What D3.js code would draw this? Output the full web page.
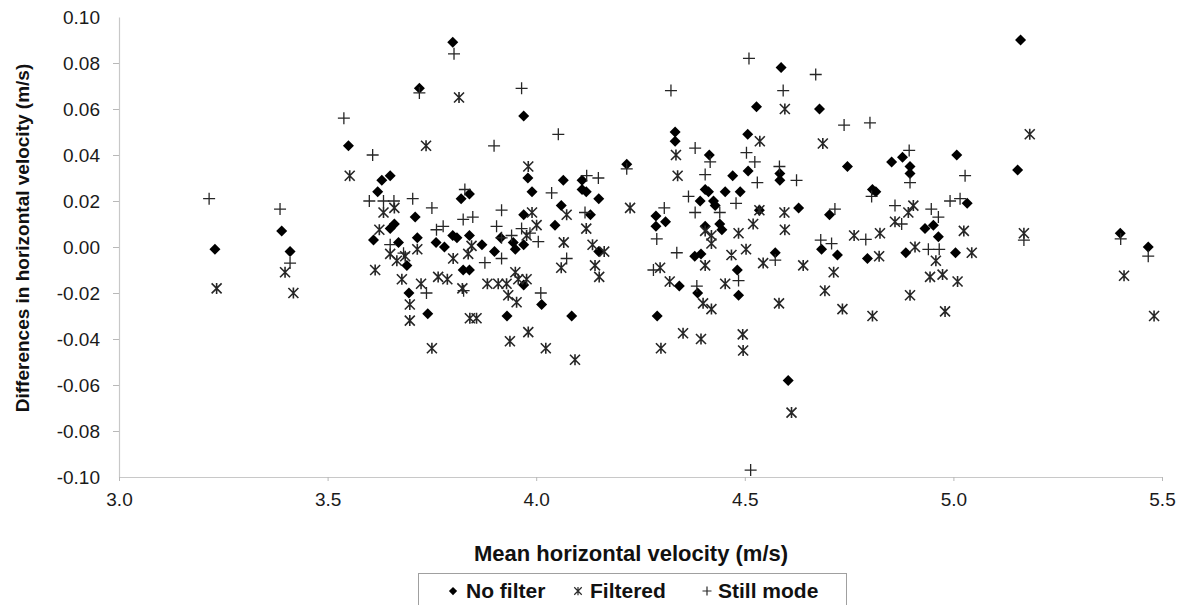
<!DOCTYPE html>
<html>
<head>
<meta charset="utf-8">
<script src="https://cdn.jsdelivr.net/npm/d3@7"></script>
<style>
body { margin: 0; background: #fff; }
text { font-family: "Liberation Sans", Arial, sans-serif; }
</style>
</head>
<body>
<div id="chart"></div>
<script>
var width = 1189
var height = 605

var xTicks = [3.0, 3.5, 4.0, 4.5, 5.0, 5.5]
var yTicks = [-0.10, -0.08, -0.06, -0.04, -0.02, 0.00, 0.02, 0.04, 0.06, 0.08, 0.10]
var seriesNames = ["No filter", "Filtered", "Still mode"]
var xTitle = "Mean horizontal velocity (m/s)"
var yTitle = "Differences in horizontal velocity (m/s)"

// [mean velocity, difference]
var noFilter = [
    [3.23, -0.001], [3.39, 0.007], [3.41, -0.002], [3.55, 0.044], [3.63, 0.029], [3.65, 0.031],
    [3.62, 0.024], [3.71, 0.013], [3.65, 0.008], [3.66, 0.010], [3.61, 0.003], [3.67, 0.002],
    [3.715, 0.004], [3.76, 0.002], [3.78, 0.000], [3.80, 0.005], [3.81, 0.004], [3.84, 0.005],
    [3.87, 0.001], [3.90, -0.002], [3.915, 0.004], [3.945, 0.002], [3.97, 0.001], [3.97, 0.014],
    [3.95, -0.001], [3.82, 0.021], [3.84, 0.023], [3.69, -0.008], [3.825, -0.010], [3.84, -0.010],
    [3.695, -0.020], [3.74, -0.029], [3.93, -0.030], [3.97, -0.0165], [3.80, 0.089], [3.72, 0.069],
    [3.97, 0.057], [3.98, 0.030], [3.99, 0.024], [4.065, 0.029], [4.11, 0.029], [4.11, 0.025],
    [4.12, 0.024], [4.15, 0.021], [4.06, 0.018], [4.13, 0.014], [4.045, 0.0095], [4.15, -0.002],
    [4.013, -0.025], [4.085, -0.030], [4.217, 0.036], [4.333, 0.050], [4.333, 0.046], [4.287, 0.0135],
    [4.31, 0.011], [4.287, 0.009], [4.343, -0.017], [4.29, -0.030], [4.38, -0.004], [4.395, -0.003],
    [4.387, -0.020], [4.415, 0.040], [4.471, 0.031], [4.507, 0.049], [4.508, 0.033], [4.405, 0.025],
    [4.413, 0.024], [4.453, 0.024], [4.489, 0.024], [4.393, 0.020], [4.425, 0.020], [4.429, 0.018],
    [4.44, 0.010], [4.445, 0.0075], [4.405, 0.009], [4.482, -0.010], [4.485, -0.021], [4.535, 0.016],
    [4.587, 0.078], [4.528, 0.061], [4.584, 0.032], [4.584, 0.029], [4.629, 0.017], [4.703, 0.014],
    [4.573, -0.0025], [4.604, -0.058], [4.679, 0.060], [4.684, -0.001], [4.722, -0.0035], [4.746, 0.035],
    [4.794, -0.005], [4.806, 0.025], [4.814, 0.024], [4.852, 0.037], [4.878, 0.039], [4.896, 0.035],
    [4.896, 0.032], [4.886, -0.0025], [4.932, 0.008], [4.952, 0.0095], [4.964, 0.0045], [5.005, -0.0025],
    [5.008, 0.040], [5.033, 0.019], [5.154, 0.0335], [5.161, 0.090], [5.40, 0.006], [5.467, 0.000]
]

var filtered = [
    [3.234, -0.018], [3.398, -0.011], [3.418, -0.020], [3.553, 0.031], [3.736, 0.044], [3.815, 0.065],
    [3.634, 0.015], [3.66, 0.017], [3.624, 0.0075], [3.715, -0.001], [3.845, 0.0005], [3.837, -0.003],
    [3.65, -0.003], [3.666, -0.006], [3.686, -0.004], [3.614, -0.010], [3.678, -0.014], [3.724, -0.016],
    [3.765, -0.013], [3.787, -0.014], [3.801, -0.005], [3.823, -0.018], [3.883, -0.016], [3.909, -0.016],
    [3.929, -0.016], [3.95, -0.011], [3.957, -0.014], [3.977, -0.014], [3.933, -0.021], [3.953, -0.024],
    [3.697, -0.025], [3.697, -0.032], [3.841, -0.031], [3.857, -0.031], [3.75, -0.044], [3.937, -0.041],
    [3.981, -0.037], [4.023, -0.044], [4.093, -0.049], [3.981, 0.035], [3.99, 0.015], [4.001, 0.0095],
    [3.977, 0.005], [4.073, 0.014], [4.12, 0.008], [4.066, 0.002], [4.135, 0.001], [4.163, -0.002],
    [4.06, -0.009], [4.141, -0.008], [4.151, -0.013], [4.225, 0.017], [4.335, 0.040], [4.339, 0.031],
    [4.42, 0.005], [4.405, 0.007], [4.42, 0.0015], [4.485, 0.006], [4.52, 0.010], [4.535, 0.016],
    [4.595, 0.015], [4.596, 0.060], [4.536, 0.046], [4.687, 0.045], [4.596, 0.0075], [4.468, -0.0035],
    [4.503, -0.001], [4.405, -0.008], [4.544, -0.007], [4.64, -0.008], [4.713, -0.011], [4.297, -0.009],
    [4.32, -0.015], [4.453, -0.016], [4.40, -0.0245], [4.42, -0.027], [4.395, -0.040], [4.352, -0.0375],
    [4.299, -0.044], [4.495, -0.038], [4.496, -0.045], [4.612, -0.072], [4.582, -0.0245], [4.692, -0.019],
    [4.734, -0.027], [4.806, -0.030], [4.762, 0.005], [4.824, 0.006], [4.822, -0.004], [4.86, 0.011],
    [4.904, 0.018], [4.892, 0.015], [4.908, 0.000], [4.958, -0.006], [4.944, -0.013], [4.974, -0.012],
    [5.01, -0.015], [4.896, -0.021], [4.98, -0.028], [5.025, 0.007], [5.044, -0.0025], [5.169, 0.006],
    [5.183, 0.049], [5.409, -0.0125], [5.481, -0.030]
]

var stillMode = [
    [3.216, 0.021], [3.386, 0.0165], [3.41, -0.007], [3.539, 0.056], [3.608, 0.040], [3.60, 0.020],
    [3.634, 0.020], [3.659, 0.020], [3.704, 0.021], [3.75, 0.017], [3.72, 0.067], [3.803, 0.084],
    [3.899, 0.044], [3.965, 0.069], [4.053, 0.049], [3.829, 0.025], [3.917, 0.016], [3.825, 0.012],
    [3.848, 0.013], [3.761, 0.0075], [3.777, 0.009], [3.65, 0.001], [3.682, -0.0027], [3.905, 0.009],
    [3.917, 0.004], [3.941, 0.005], [3.965, 0.008], [3.985, 0.006], [4.005, 0.0023], [3.917, -0.005],
    [3.877, -0.0068], [3.737, -0.020], [3.826, -0.019], [4.011, -0.020], [4.073, -0.005], [4.037, 0.0235],
    [4.121, 0.031], [4.149, 0.030], [4.117, 0.015], [4.217, 0.034], [4.307, 0.017], [4.289, 0.0035],
    [4.281, -0.010], [4.337, -0.0025], [4.323, 0.068], [4.381, 0.043], [4.365, 0.022], [4.381, 0.015],
    [4.385, -0.017], [4.405, 0.0315], [4.417, 0.037], [4.44, 0.015], [4.479, 0.019], [4.504, 0.041],
    [4.524, 0.037], [4.53, 0.028], [4.51, 0.082], [4.592, 0.068], [4.583, 0.035], [4.624, 0.029],
    [4.67, 0.075], [4.738, 0.053], [4.80, 0.054], [4.716, 0.0165], [4.682, 0.003], [4.708, 0.0015],
    [4.573, -0.0057], [4.485, -0.0146], [4.514, -0.097], [4.79, 0.0033], [4.804, 0.022], [4.86, 0.018],
    [4.876, 0.010], [4.894, 0.042], [4.896, 0.028], [4.947, 0.0165], [4.964, 0.013], [4.992, 0.020],
    [5.016, 0.021], [5.028, 0.031], [4.94, -0.001], [4.966, -0.001], [5.169, 0.003], [5.401, 0.0035],
    [5.467, -0.004]
]

var svg = d3.select('#chart')
    .append('svg')
    .attr('width', width)
    .attr('height', height)

var x = d3.scaleLinear().domain([3.0, 5.5]).range([119, 1162])
var y = d3.scaleLinear().domain([-0.10, 0.10]).range([477, 17])

// marker shapes
var shapes = {
    diamond: "M0,-5.5L5.5,0L0,5.5L-5.5,0Z",
    star: "M-5,-5L5,5M-5,5L5,-5M0,-5.5L0,5.5",
    plus: "M-6,0L6,0M0,-6L0,6"
}

// axes
var yAxis = svg.append('g')
    .attr('transform', 'translate(' + x(3.0) + ',0)')
    .call(d3.axisLeft(y).tickValues(yTicks).tickSize(6).tickPadding(13)
        .tickSizeOuter(0).tickFormat(function (d) { return d.toFixed(2) }))
var xAxis = svg.append('g')
    .attr('transform', 'translate(0,' + y(-0.10) + ')')
    .call(d3.axisBottom(x).tickValues(xTicks).tickSize(4).tickPadding(12)
        .tickSizeOuter(0).tickFormat(d3.format('.1f')))

svg.selectAll('.domain').attr('stroke', '#c8c8c8').attr('stroke-width', 1.2)
svg.selectAll('.tick line').attr('stroke', '#b8b8b8')
svg.selectAll('.tick text').attr('fill', '#1a1a1a').style('font-size', '19px')
yAxis.selectAll('.tick').filter(function (d) { return d === 0.10 || d === -0.10 }).select('line').remove()

// points, in the order the series are listed
function drawSeries(data, shape) {
    var g = svg.append('g')
    var p = g.selectAll('path')
        .data(data)
        .enter()
        .append('path')
        .attr('transform', function (d) { return 'translate(' + x(d[0]) + ',' + y(d[1]) + ')' })
        .attr('d', shapes[shape])
    if (shape === 'diamond') {
        p.attr('fill', '#000')
    } else {
        p.attr('fill', 'none').attr('stroke', '#262626').attr('stroke-width', shape === 'star' ? 1.6 : 1.3)
    }
}
drawSeries(noFilter, 'diamond')
drawSeries(filtered, 'star')
drawSeries(stillMode, 'plus')

// titles
svg.append('text')
    .attr('x', 631)
    .attr('y', 561)
    .attr('text-anchor', 'middle')
    .style('font-size', '22px')
    .style('font-weight', 'bold')
    .attr('fill', '#111')
    .text(xTitle)

svg.append('text')
    .attr('transform', 'translate(29,238) rotate(-90)')
    .attr('text-anchor', 'middle')
    .style('font-size', '19px')
    .style('font-weight', 'bold')
    .attr('fill', '#111')
    .text(yTitle)

// legend
var legend = svg.append('g')
legend.append('rect')
    .attr('x', 418.5)
    .attr('y', 573.5)
    .attr('width', 428)
    .attr('height', 50)
    .attr('fill', 'none')
    .attr('stroke', '#a0a0a0')

var legendItems = [
    { name: seriesNames[0], shape: 'diamond', mx: 453, tx: 466 },
    { name: seriesNames[1], shape: 'star', mx: 578, tx: 590 },
    { name: seriesNames[2], shape: 'plus', mx: 707, tx: 718 }
]
legendItems.forEach(function (item) {
    var m = legend.append('path')
        .attr('transform', 'translate(' + item.mx + ',591) scale(0.75)')
        .attr('d', shapes[item.shape])
    if (item.shape === 'diamond') {
        m.attr('fill', '#000')
    } else {
        m.attr('fill', 'none').attr('stroke', '#2a2a2a').attr('stroke-width', 1.6)
    }
    legend.append('text')
        .attr('x', item.tx)
        .attr('y', 598)
        .style('font-size', '21px')
        .style('font-weight', 'bold')
        .attr('fill', '#111')
        .text(item.name)
})
</script>
</body>
</html>
